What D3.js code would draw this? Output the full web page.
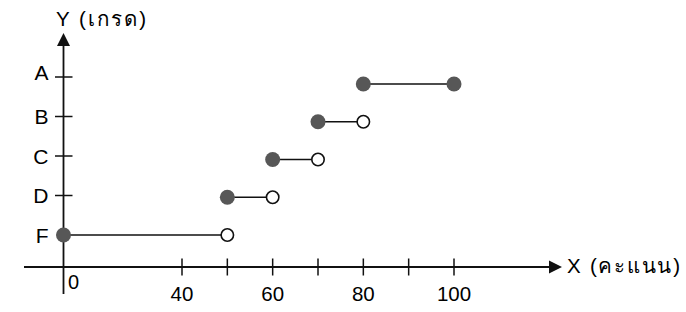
<!DOCTYPE html>
<html><head><meta charset="utf-8">
<script src="https://cdn.jsdelivr.net/npm/d3@7"></script>
<style>
html,body{margin:0;padding:0;background:#fff;}
svg{display:block;}
text{font-family:"Liberation Sans",Arial,"Noto Sans",sans-serif;fill:#000;}
</style></head>
<body>
<svg id="chart" width="686" height="312"></svg>
<script>
// ---- data ----
const grades = ["A", "B", "C", "D", "F"];
const startScores = [80, 70, 60, 50, 0];
const endScores = [100, 80, 70, 60, 50];
const endClosed = [true, false, false, false, false];
const xTickValues = [40, 50, 60, 70, 80, 90, 100];
const xTickLabels = [40, 60, 80, 100];
const originLabel = "0";
const xTitle = "X (คะแนน)";
const yTitle = "Y (เกรด)";

// ---- scales ----
const x = d3.scaleLinear().domain([0, 40, 100]).range([63.5, 182, 454]);
const gradeOrder = ["F", "D", "C", "B", "A"];
const yTick = d3.scalePoint().domain(gradeOrder).range([235, 77]);
const yMark = d3.scalePoint().domain(gradeOrder).range([235, 84]);

const svg = d3.select("#chart");
const axisY = 267;
const axisColor = "#111";

// x axis line + arrow
svg.append("line").attr("x1", 24).attr("x2", 553).attr("y1", axisY).attr("y2", axisY)
  .attr("stroke", axisColor).attr("stroke-width", 1.8);
svg.append("path").attr("d", `M562,${axisY} L549,${axisY-6.5} L549,${axisY+6.5} Z`).attr("fill", axisColor);

// y axis line + arrow
const yAxisX = x(0);
svg.append("line").attr("x1", yAxisX).attr("x2", yAxisX).attr("y1", 44).attr("y2", 294)
  .attr("stroke", axisColor).attr("stroke-width", 1.8);
svg.append("path").attr("d", `M${yAxisX},33 L${yAxisX-6.5},46 L${yAxisX+6.5},46 Z`).attr("fill", axisColor);

// x ticks
svg.append("g").selectAll("line").data(xTickValues).join("line")
  .attr("x1", d => x(d)).attr("x2", d => x(d))
  .attr("y1", axisY - 8.5).attr("y2", axisY + 8.5)
  .attr("stroke", axisColor).attr("stroke-width", 1.5);

// x tick labels
svg.append("g").selectAll("text").data(xTickLabels).join("text")
  .attr("x", d => x(d)).attr("y", 301)
  .attr("text-anchor", "middle").attr("font-size", 20.5).text(d => d);
svg.append("text").attr("x", x(0) + 4.5).attr("y", 289).attr("font-size", 20).text(originLabel);

// y ticks (not F)
svg.append("g").selectAll("line").data(grades.filter(g => g !== "F")).join("line")
  .attr("x1", yAxisX - 8.5).attr("x2", yAxisX + 9)
  .attr("y1", d => yTick(d)).attr("y2", d => yTick(d))
  .attr("stroke", axisColor).attr("stroke-width", 1.5);

// y tick labels
svg.append("g").selectAll("text").data(grades).join("text")
  .attr("x", 48.5).attr("y", d => yTick(d) + (d === "A" ? 3 : 7.5))
  .attr("text-anchor", "end").attr("font-size", 21).text(d => d);

// titles
svg.append("text").attr("x", 56).attr("y", 26).attr("font-size", 20.5)
  .attr("textLength", 90).attr("lengthAdjust", "spacing").text(yTitle);
svg.append("text").attr("x", 567).attr("y", 273).attr("font-size", 20.5)
  .attr("textLength", 113).attr("lengthAdjust", "spacing").text(xTitle);

// segments
const segs = grades.map((g, i) => ({g, s: startScores[i], e: endScores[i], closed: endClosed[i]}));
svg.append("g").selectAll("line").data(segs).join("line")
  .attr("x1", d => x(d.s)).attr("x2", d => x(d.e))
  .attr("y1", d => yMark(d.g)).attr("y2", d => yMark(d.g))
  .attr("stroke", "#111").attr("stroke-width", 1.6);

// start points (closed)
svg.append("g").selectAll("circle").data(segs).join("circle")
  .attr("cx", d => x(d.s)).attr("cy", d => yMark(d.g)).attr("r", 7.5)
  .attr("fill", "#575757");

// end points
svg.append("g").selectAll("circle").data(segs).join("circle")
  .attr("cx", d => x(d.e)).attr("cy", d => yMark(d.g))
  .attr("r", d => d.closed ? 7.5 : 6.2)
  .attr("fill", d => d.closed ? "#575757" : "#fff")
  .attr("stroke", d => d.closed ? "none" : "#111")
  .attr("stroke-width", 1.6);
</script>
</body></html>
